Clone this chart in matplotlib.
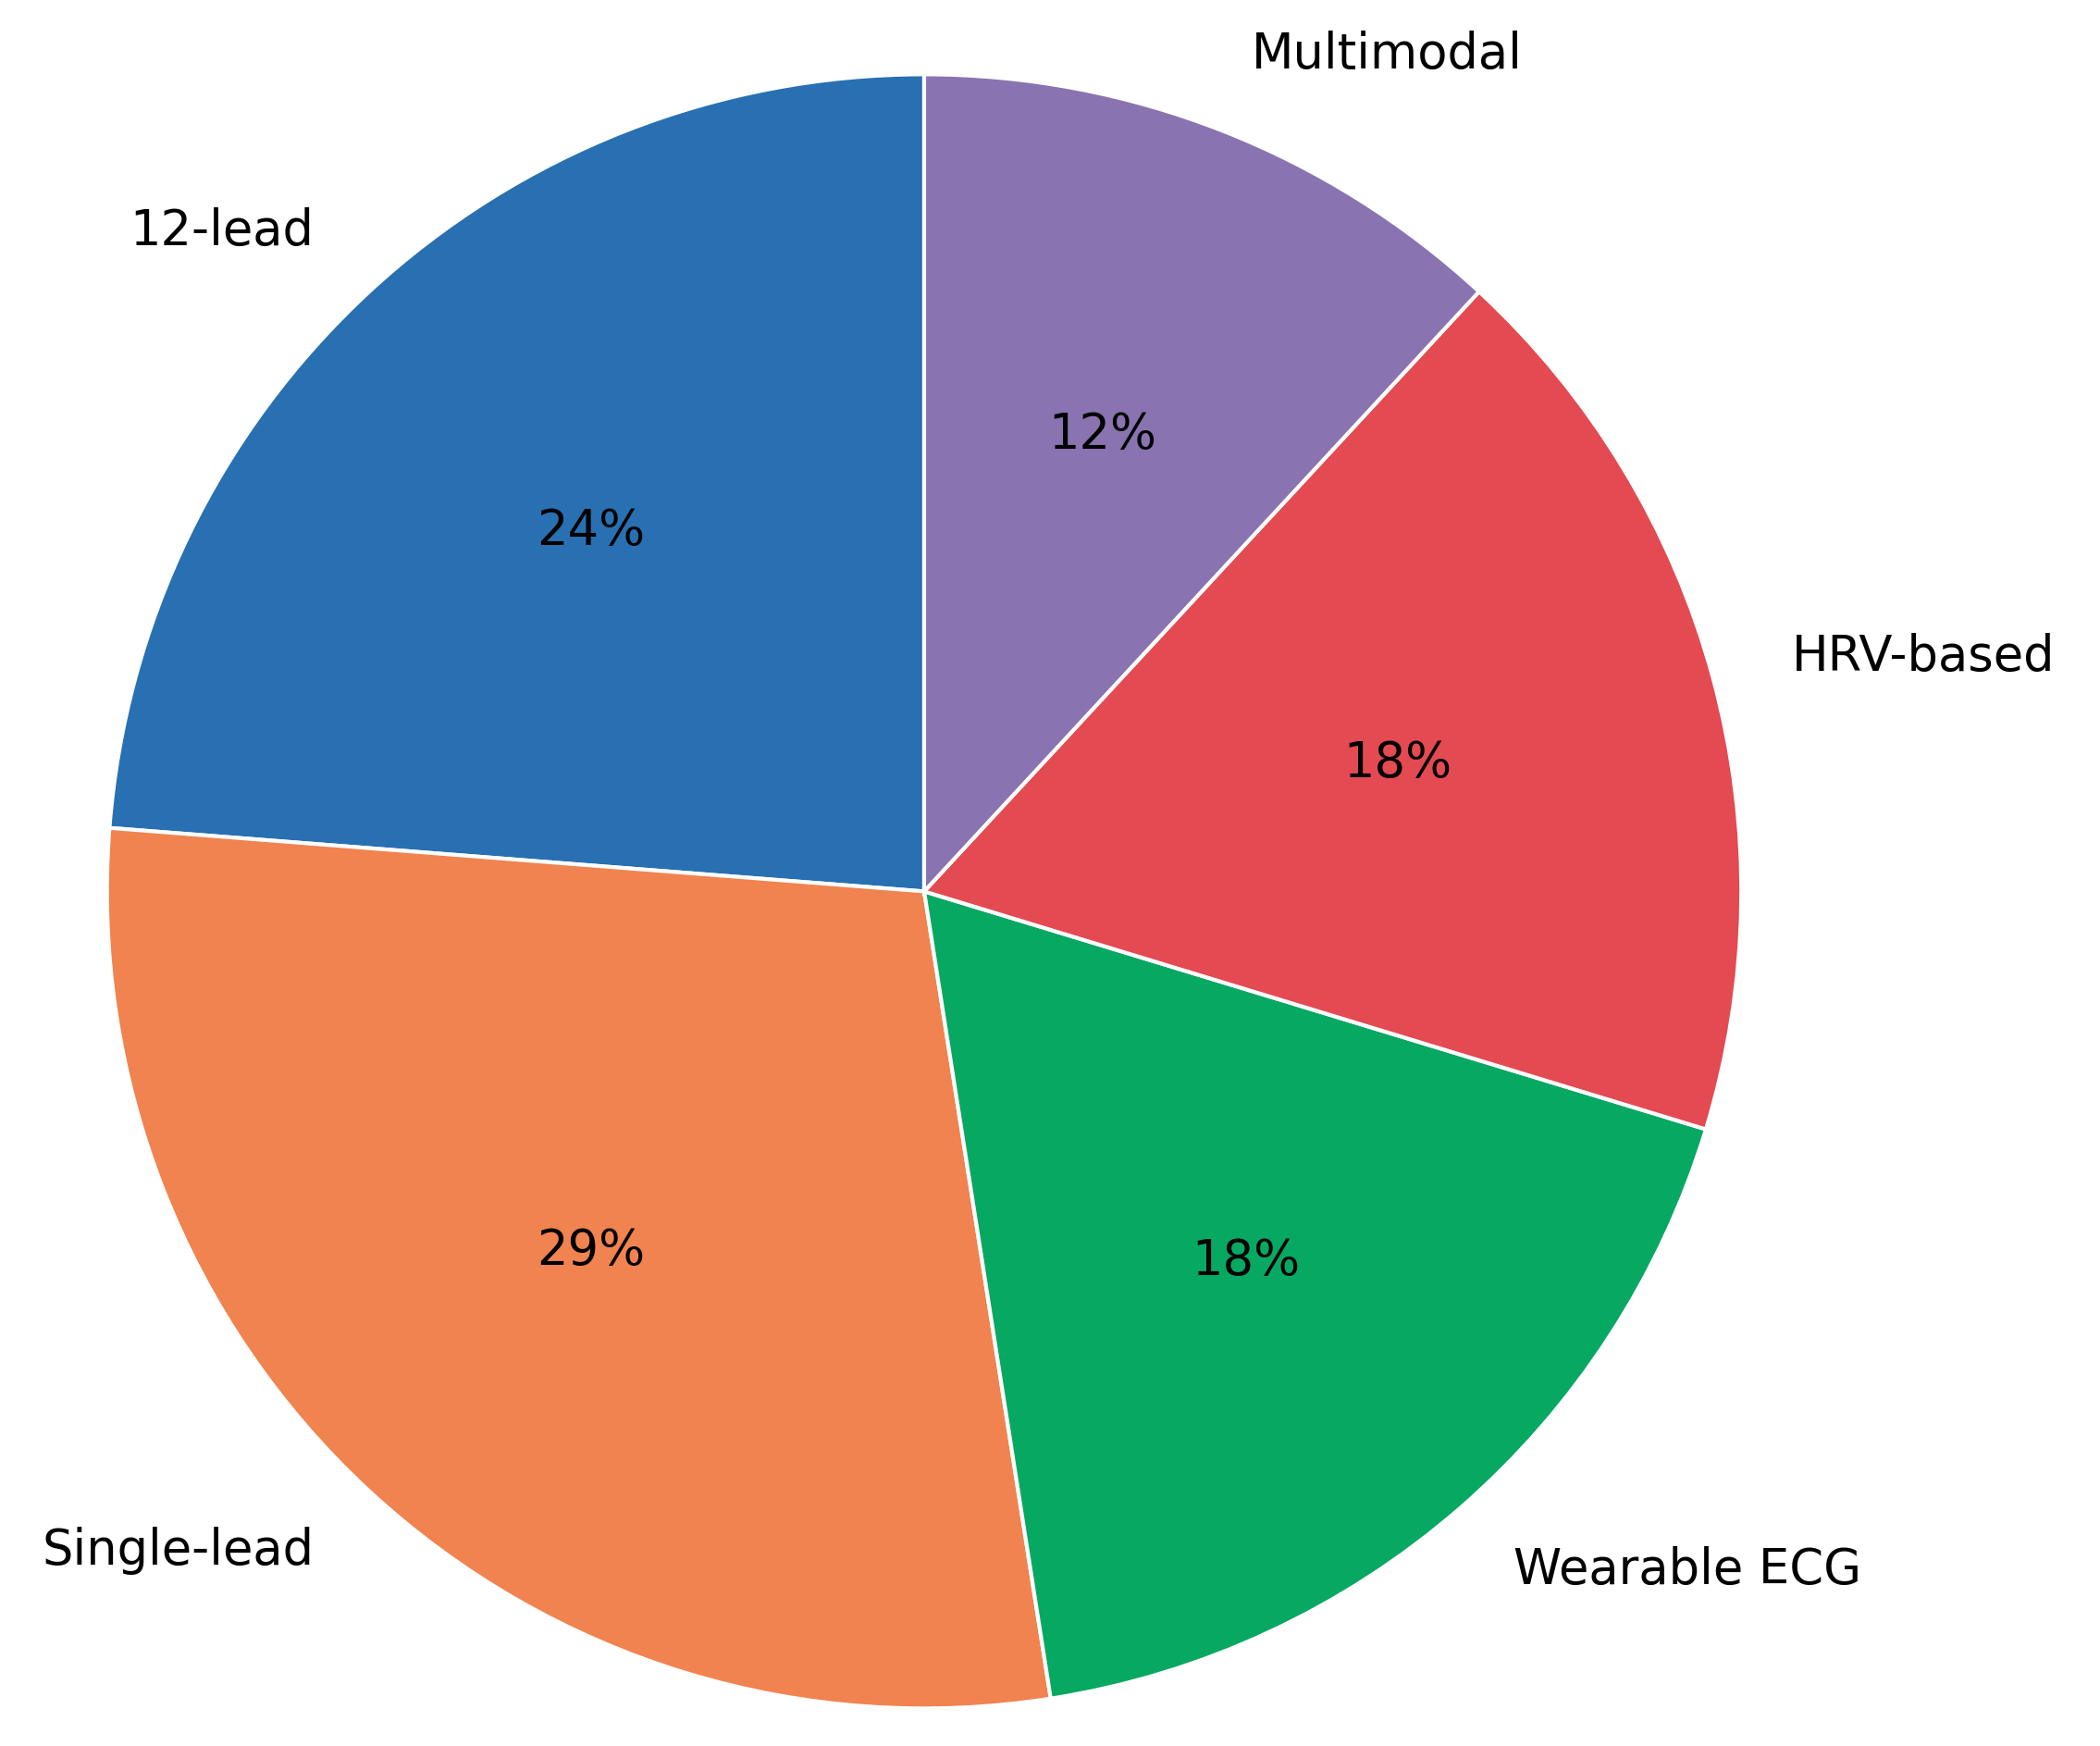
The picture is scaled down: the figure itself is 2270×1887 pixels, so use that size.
import matplotlib.pyplot as plt

labels = ['12-lead', 'Single-lead', 'Wearable ECG', 'HRV-based', 'Multimodal']
values = [24, 29, 18, 18, 12]
colors = ['#2870b1', '#f0834f', '#07a862', '#e34a51', '#8973b0']

fig = plt.figure(figsize=(22.7, 18.87), dpi=100)
ax = fig.add_axes([0, 0, 1, 1])
ax.pie(values, labels=labels, colors=colors, autopct='%1.0f%%', startangle=90,
       wedgeprops=dict(edgecolor='white', linewidth=3),
       textprops=dict(fontsize=38, family='DejaVu Sans'))
ax.set_xlim(-1.131, 1.439)
ax.set_ylim(-1.046, 1.091)
ax.set_aspect('auto')
ax.axis('off')
fig.savefig('out.png', dpi=100, facecolor='white')
